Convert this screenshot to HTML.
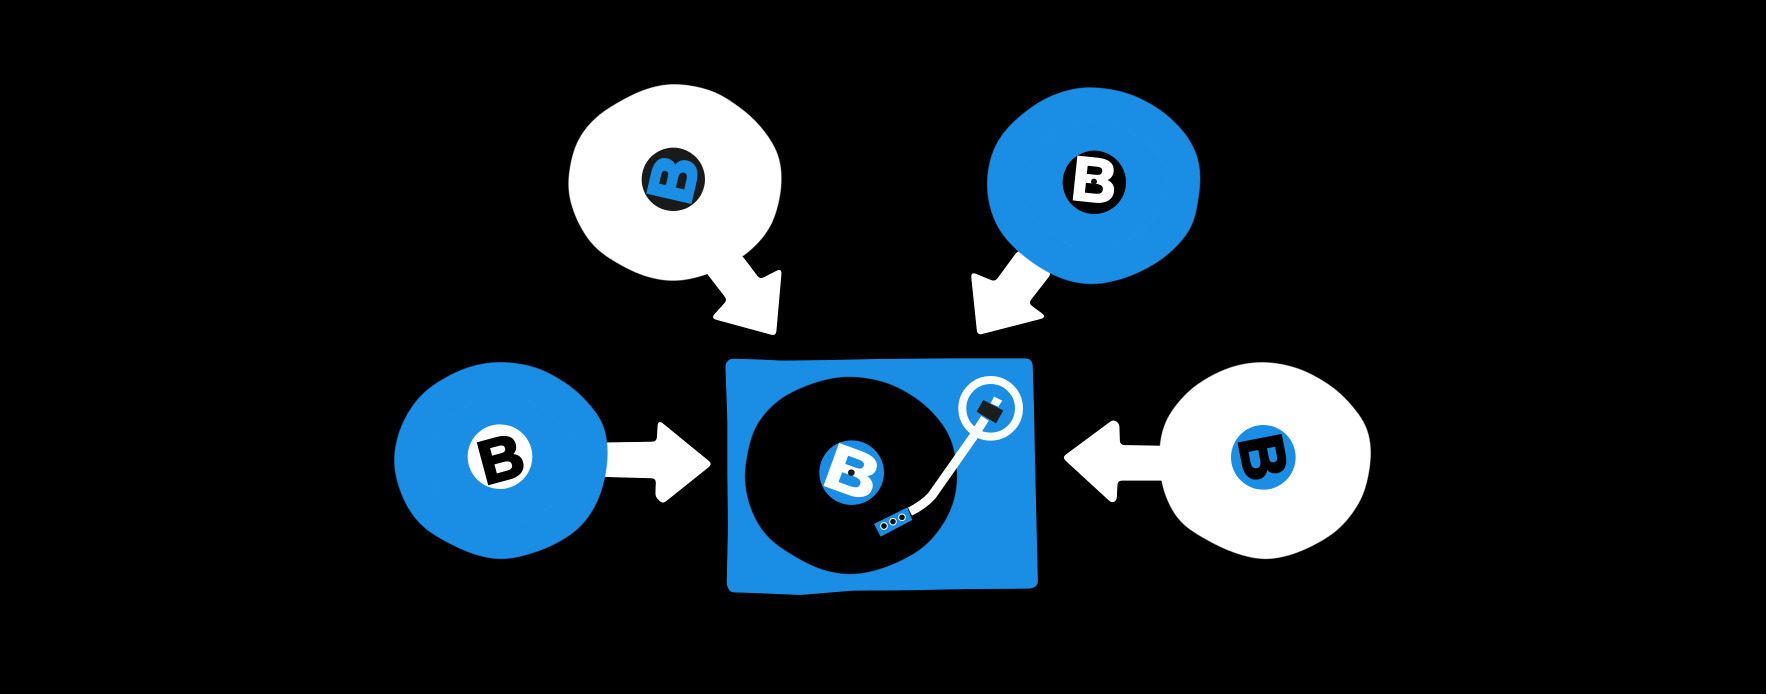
<!DOCTYPE html>
<html><head><meta charset="utf-8"><style>html,body{margin:0;padding:0;background:#000;width:1766px;height:694px;overflow:hidden}svg{display:block}text{font-family:"Liberation Sans",sans-serif;font-weight:700;text-anchor:middle}</style></head>
<body>
<svg width="1766" height="694" viewBox="0 0 1766 694" xmlns="http://www.w3.org/2000/svg">
<defs>
<filter id="r" x="-15%" y="-15%" width="130%" height="130%" color-interpolation-filters="sRGB"><feGaussianBlur stdDeviation="6"/><feColorMatrix type="matrix" values="1 0 0 0 0 0 1 0 0 0 0 0 1 0 0 0 0 0 12 -5.5"/></filter>
<filter id="d" x="-25%" y="-25%" width="150%" height="150%" color-interpolation-filters="sRGB"><feGaussianBlur stdDeviation="42"/><feColorMatrix type="matrix" values="1 0 0 0 0 0 1 0 0 0 0 0 1 0 0 0 0 0 34 -16.5"/></filter>
</defs>
<rect width="1766" height="694" fill="#000"/>
<!-- top left -->
<g transform="translate(540,60) scale(.3333)">
<polygon filter="url(#r)" fill="#fff" points="480,600 605,585 660,658 726,624 708,828 512,775 562,720 500,640"/>
<polygon filter="url(#d)" fill="#fff" points="395,66 527,90 647,176 722,280 728,386 696,507 614,592 500,647 400,669 297,647 163,570 108,483 78,385 103,247 166,166 299,90"/>
<circle cx="400" cy="358" r="95" fill="#1a1a1a"/>
<g transform="translate(400,358) rotate(-77)"><text y="64" font-size="186" fill="#1a8ee4" stroke="#1a8ee4" stroke-width="11">B</text></g>
</g>
<!-- top right -->
<g transform="translate(950,60) scale(.3333)">
<polygon filter="url(#r)" fill="#fff" points="205,570 305,640 235,730 292,772 82,826 62,635 135,665"/>
<polygon filter="url(#d)" fill="#1a8ee4" points="400,76 533,94 646,154 732,247 757,340 732,505 646,596 543,652 430,679 337,662 246,611 164,540 124,473 105,370 128,257 185,185 287,109"/>
<circle cx="433" cy="367" r="95" fill="#000"/>
<g transform="translate(433,360) rotate(6)"><text y="64" font-size="186" fill="#fff" stroke="#fff" stroke-width="7">B</text></g>
<circle cx="432" cy="365" r="9" fill="#111"/>
</g>
<!-- turntable -->
<g transform="translate(710,340) scale(.3333)">
<polygon filter="url(#r)" fill="#1a8ee4" points="60,56 140,58 220,62 360,60 500,57 720,55 958,55 968,68 972,200 976,400 984,735 965,746 780,747 600,751 430,752 270,765 150,760 60,757 50,735 54,560 52,400 52,240 46,70"/>
<polygon filter="url(#d)" fill="#000" points="410,105 534,124 646,189 727,287 747,423 722,525 646,626 523,687 420,709 317,687 174,601 124,523 98,415 128,261 204,174 317,124"/>
<circle cx="425" cy="398" r="97" fill="#1a8ee4"/>
<g transform="translate(428,396) rotate(20) scale(1.15,1)"><text y="66" font-size="190" fill="#fff" stroke="#fff" stroke-width="6">B</text></g>
<circle cx="424" cy="398" r="10" fill="#1a1a1a"/>
<circle cx="842" cy="205" r="85" fill="none" stroke="#fff" stroke-width="24"/>
<path d="M825,235 L790,290 L665,468 Q640,495 600,515" fill="none" stroke="#fff" stroke-width="27"/>
<polygon fill="#fff" points="852,170 877,182 865,200 842,190"/>
<polygon fill="#1c1c1c" points="820,180 880,212 858,250 800,215"/>
<polygon fill="#1a8ee4" points="492,552 592,502 607,540 512,590"/>
<g fill="#111" stroke="#fff" stroke-width="3"><circle cx="522" cy="558" r="10"/><circle cx="549" cy="545" r="10"/><circle cx="576" cy="532" r="10"/></g>
</g>
<!-- left -->
<g transform="translate(380,350) scale(.3333)">
<polygon filter="url(#r)" fill="#fff" points="640,278 830,275 834,208 998,342 848,462 826,440 828,385 640,380"/>
<polygon filter="url(#d)" fill="#1a8ee4" points="350,31 473,48 586,114 677,217 687,330 662,445 606,536 503,597 370,635 267,612 124,536 68,454 35,340 58,227 124,124 247,53"/>
<circle cx="360" cy="320" r="97" fill="#fff"/>
<g transform="translate(363,326) rotate(-15)"><text y="63" font-size="182" fill="#000" stroke="#000" stroke-width="8">B</text></g>
</g>
<!-- right -->
<g transform="translate(1050,350) scale(.3333)">
<polygon filter="url(#r)" fill="#fff" points="370,392 203,392 200,452 186,460 36,322 190,208 208,220 210,285 370,288"/>
<polygon filter="url(#d)" fill="#fff" points="640,31 753,53 866,119 957,227 967,320 942,445 866,546 743,612 640,635 527,602 384,521 333,413 325,290 343,206 424,109 537,48"/>
<circle cx="640" cy="322" r="97" fill="#1a8ee4"/>
<g transform="translate(640,322) rotate(79)"><text y="64" font-size="186" fill="#000" stroke="#000" stroke-width="7">B</text></g>
</g>
</svg>
</body></html>
